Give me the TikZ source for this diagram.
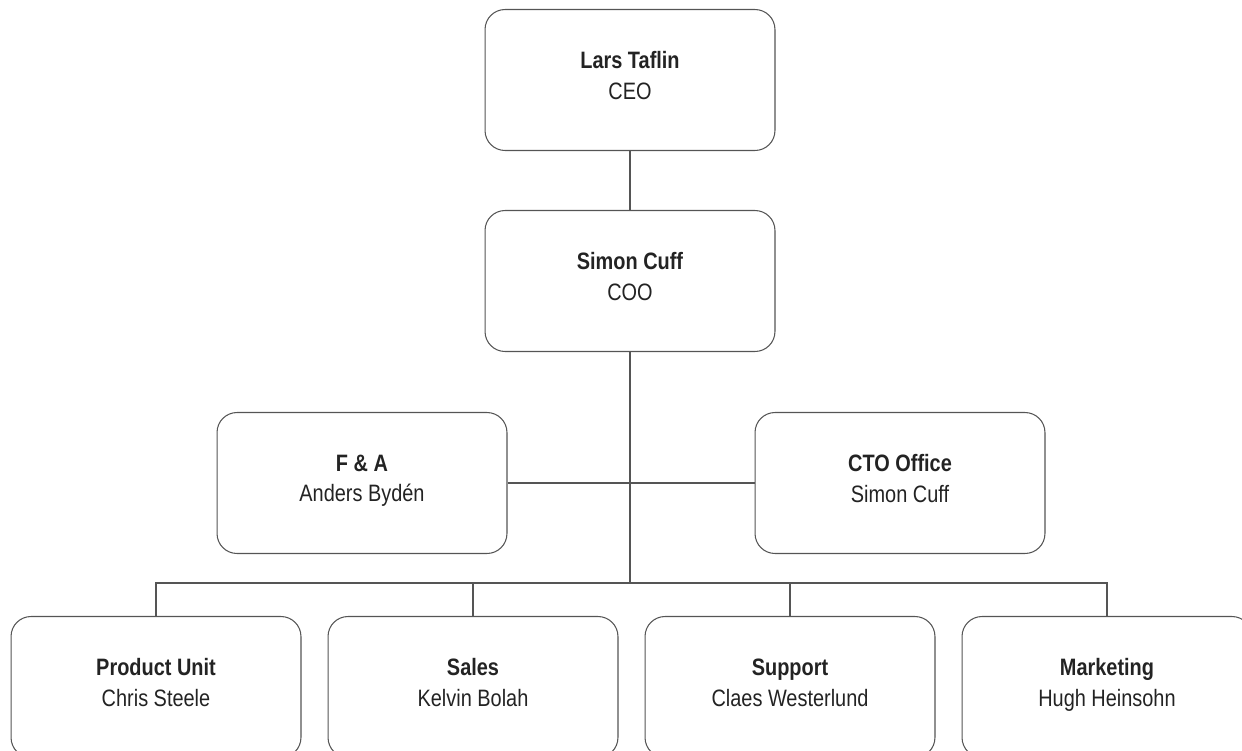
\documentclass[tikz,border=0pt]{standalone}
\usepackage{fontspec}
\setmainfont[FakeStretch=0.84]{Liberation Sans}
\usepackage{tikz}

\definecolor{linegray}{RGB}{85,85,85}
\definecolor{textgray}{RGB}{35,35,35}

\begin{document}
\begin{tikzpicture}[x=0.02cm, y=-0.02cm,
	box/.style={draw=linegray, line width=0.6pt, rounded corners=0.4cm,
		minimum width=5.8cm, minimum height=2.82cm, align=center,
		text=textgray, font=\fontsize{13.5}{17.5}\selectfont,
		execute at begin node={\rule{0pt}{15.6pt}}, execute at end node=\strut},
	link/.style={draw=linegray, line width=0.6pt}]
  \useasboundingbox (0,0) rectangle (1242,751);

  % top of the chart
  \node[box] (ceo) at (630,80)  {\textbf{Lars Taflin}\\CEO};
  \node[box] (coo) at (630,281) {\textbf{Simon Cuff}\\COO};

  % staff functions
  \node[box] (fa)  at (362,483) {\textbf{F \& A}\\Anders Bydén};
  \node[box] (cto) at (900,483) {\textbf{CTO Office}\\Simon Cuff};

  % line units
  \node[box] (product) at (156,687)  {\textbf{Product Unit}\\Chris Steele};
  \node[box] (sales)   at (473,687)  {\textbf{Sales}\\Kelvin Bolah};
  \node[box] (support) at (790,687)  {\textbf{Support}\\Claes Westerlund};
  \node[box] (mkt)     at (1107,687) {\textbf{Marketing}\\Hugh Heinsohn};

  \coordinate (bus) at (630,583);

  \draw[link] (ceo.south) -- (coo.north);
  \draw[link] (coo.south) -- (bus);
  \draw[link] (fa.east) -- (cto.west);
  \draw[link] (product.north) |- (bus) -| (mkt.north);
  \foreach \unit in {sales,support}
    \draw[link] (\unit.north) -- (\unit.north |- bus);
\end{tikzpicture}
\end{document}
